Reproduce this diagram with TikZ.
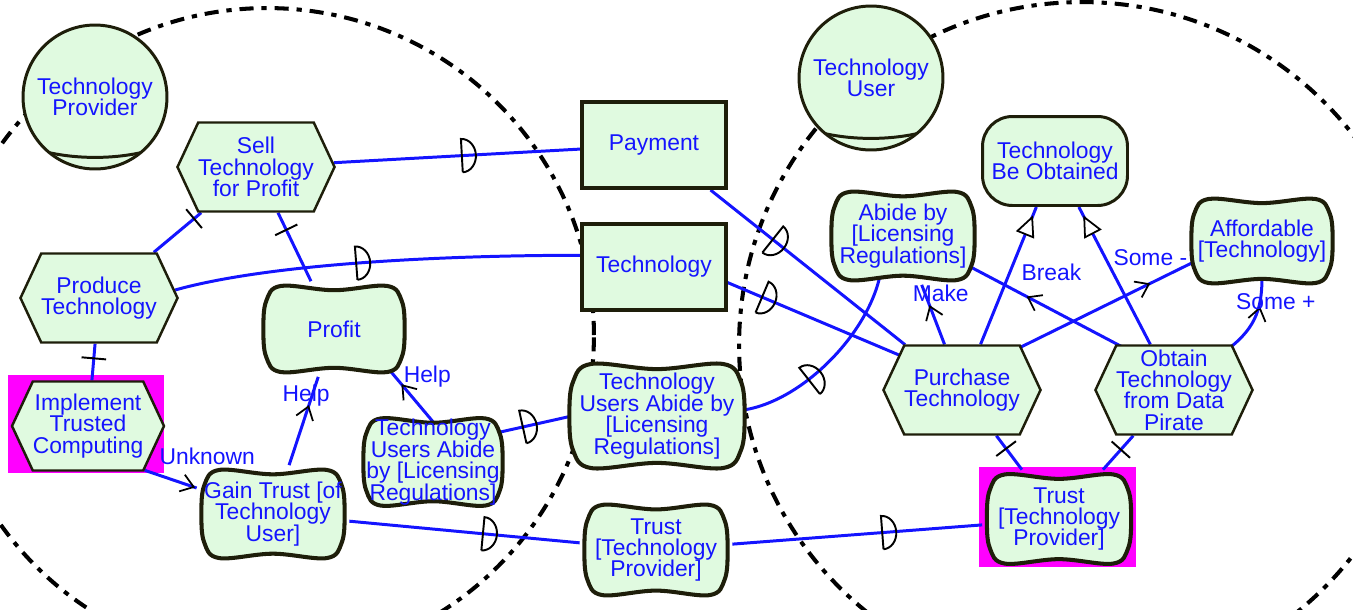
\documentclass[tikz,border=0pt]{standalone}
\usepackage{fontspec}
\setmainfont{Liberation Sans}
\usetikzlibrary{shapes.symbols, arrows.meta, decorations.markings, calc}
\pgfdeclarelayer{back}
\pgfsetlayers{back,main}
\definecolor{nodefill}{RGB}{224,250,224}
\definecolor{nodeline}{RGB}{30,30,10}
\definecolor{istarblue}{RGB}{20,20,255}
\definecolor{hilite}{RGB}{255,0,255}

\begin{document}
\begin{tikzpicture}[x=0.02cm, y=-0.02cm,
    every node/.style={font=\fontsize{13}{12.2}\selectfont, text=istarblue, align=center, inner sep=0pt},
    actor/.style={circle, draw=nodeline, fill=nodefill, line width=1.7pt, minimum size=2.88cm,
      path picture={\draw [draw=nodeline, line width=1.7pt] let \p1 = (path picture bounding box.center) in
        ({\x1 - 29pt}, {\y1 - 31pt}) .. controls ({\x1 - 11pt}, {\y1 - 35.5pt}) and ({\x1 + 11pt}, {\y1 - 35.5pt}) .. ({\x1 + 29pt}, {\y1 - 31pt});}},
    hexa/.style={signal, signal to=east and west, signal pointer angle=130, draw=nodeline, fill=nodefill, line width=1.4pt, minimum width=2.9cm, minimum height=1.78cm},
    res/.style={rectangle, draw=nodeline, fill=nodefill, line width=2.3pt, minimum width=2.88cm, minimum height=1.72cm},
    goal/.style={rectangle, rounded corners=17pt, draw=nodeline, fill=nodefill, line width=1.7pt, minimum width=2.9cm, minimum height=1.78cm},
    soft/.style={rectangle, path picture={
      \draw [draw=nodeline, fill=nodefill, line width=2.3pt] let \p1 = (path picture bounding box.south west),
          \p2 = (path picture bounding box.north east), \p3 = (path picture bounding box.center),
          \n1 = {(\x2 - \x1) / 2 - 2.5pt}, \n2 = {(\y2 - \y1) / 2 - 2.5pt} in
        plot [smooth cycle, tension=.6] coordinates {
          ({\x3 - .75*\n1}, {\y3 + \n2}) ({\x3}, {\y3 + .9*\n2}) ({\x3 + .75*\n1}, {\y3 + \n2})
          ({\x3 + .96*\n1}, {\y3 + .65*\n2}) ({\x3 + \n1}, {\y3}) ({\x3 + .96*\n1}, {\y3 - .65*\n2})
          ({\x3 + .75*\n1}, {\y3 - \n2}) ({\x3}, {\y3 - .9*\n2}) ({\x3 - .75*\n1}, {\y3 - \n2})
          ({\x3 - .96*\n1}, {\y3 - .65*\n2}) ({\x3 - \n1}, {\y3}) ({\x3 - .96*\n1}, {\y3 + .65*\n2})};}},
    link/.style={draw=istarblue, line width=1.7pt},
    into/.style={shorten <=-6pt, shorten >=-6pt},
    mk/.style={black, line width=1.1pt, shorten <=0pt, shorten >=0pt},
    dep/.style={postaction={decorate, decoration={markings, mark=at position #1 with
      {\draw [mk] (0pt, -9.5pt) -- (0pt, 9.5pt) arc [start angle=90, end angle=-90, x radius=8pt, y radius=9.5pt];}}}},
    bar/.style={postaction={decorate, decoration={markings, mark=at position #1 with
      {\draw [mk] (0pt, -7pt) -- (0pt, 7pt);}}}},
    contrib/.style={postaction={decorate, decoration={markings, mark=at position #1 with
      {\arrow [black, line width=1pt] {Straight Barb[length=7pt, width=10pt]}}}}},
    meansend/.style={postaction={decorate, decoration={markings, mark=at position #1 with
      {\arrow [black, line width=1pt] {Triangle[length=12pt, width=11pt, fill=white]}}}}},
    lbl/.style={text=istarblue},
    boundary/.style={draw=black, line width=2.3pt, dash pattern=on 8pt off 4.5pt on 3pt off 4.5pt}]
    \useasboundingbox (0, 0) rectangle (1353, 609);
    \node [actor] (tprov) at (95, 97) {Technology\\Provider};
    \node [actor] (tuser) at (871, 78) {Technology\\User};
    \node [hexa] (sell) at (256, 167) {Sell\\Technology\\for Profit};
    \node [hexa] (prod) at (99, 298) {Produce\\Technology};
    \node [hexa] (itc) at (88, 426) {Implement\\Trusted\\Computing};
    \node [soft, minimum width=3cm, minimum height=1.9cm] (profit) at (334, 329) {Profit};
    \node [soft, minimum width=3.04cm, minimum height=1.94cm] (gain) at (273, 514) {Gain Trust [of\\Technology\\User]};
    \node [soft, minimum width=2.96cm, minimum height=1.92cm] (tuas) at (433, 462) {Technology\\Users Abide\\by [Licensing\\Regulations]};
    \node [res] (pay) at (654, 145) {Payment};
    \node [res] (tech) at (654, 267) {Technology};
    \node [soft, minimum width=3.68cm, minimum height=2.26cm] (tuab) at (657, 416) {Technology\\Users Abide by\\{}[Licensing\\Regulations]};
    \node [soft, minimum width=3.04cm, minimum height=1.98cm] (trustm) at (656, 550) {Trust\\{}[Technology\\Provider]};
    \node [goal] (tbo) at (1055, 161) {Technology\\Be Obtained};
    \node [soft, minimum width=3.04cm, minimum height=1.94cm] (abide) at (903, 236) {Abide by\\{}[Licensing\\Regulations]};
    \node [soft, minimum width=3cm, minimum height=1.86cm] (afford) at (1262, 241) {Affordable\\{}[Technology]};
    \node [hexa] (purch) at (962, 390) {Purchase\\Technology};
    \node [hexa] (obtain) at (1174, 390) {Obtain\\Technology\\from Data\\Pirate};
    \node [soft, minimum width=3.06cm, minimum height=1.96cm] (trustr) at (1059, 519) {Trust\\{}[Technology\\Provider]};
    \begin{pgfonlayer}{back}
    \draw [boundary] (267, 335) circle [radius=6.54cm];
    \draw [boundary] (1082, 345) circle [radius=6.86cm];
    \fill [hilite] (8, 375) rectangle (164, 473);
    \fill [hilite] (979, 467) rectangle (1136, 567);
    \draw [link, bar=.85] (prod) to (sell);
    \draw [link, bar=.75] (profit) to (sell);
    \draw [link, bar=.6] (itc) to (prod);
    \draw [link, contrib=.97] (itc.-38) to node [lbl, pos=1, xshift=6pt, yshift=18pt] {Unknown} (gain);
    \draw [link, contrib=.68] (gain) to node [lbl, pos=.79, xshift=-3.4pt] {Help} (profit);
    \draw [link, into, contrib=.8] (tuas.98) to node [lbl, pos=1, anchor=west, xshift=4pt] {Help} (profit.-38);
    \draw [link, dep=.52] (sell) to (pay);
    \draw [link, dep=.45] (prod.6) .. controls +(100, -28) and +(-120, 0) .. (tech.171);
    \draw [link, dep=.32] (pay) to (purch);
    \draw [link, into, dep=.2] (tech.-12) to (purch.151);
    \draw [link, into, dep=.27] (tuas.23) to (tuab.181);
    \draw [link, into, dep=.36] (tuab.4) .. controls +(50, -5) and +(-10, 50) .. (abide.243);
    \draw [link, dep=.58] (gain) to (trustm);
    \draw [link, dep=.6] (trustm) to (trustr);
    \draw [link, contrib=.66] (purch) to node [lbl, pos=.86, xshift=9pt] {Make} (abide);
    \draw [link, meansend=.94] (purch) to (tbo);
    \draw [link, meansend=.94] (obtain) to (tbo);
    \draw [link, into, contrib=.66] (obtain.141) to node [lbl, pos=.48, yshift=21pt] {Break} (abide.-25);
    \draw [link, into, contrib=.78] (purch.36) to node [lbl, pos=.78, yshift=14.7pt] {Some -} (afford.198);
    \draw [link, into, contrib=.72] (obtain.37) .. controls +(20, -15) and +(0, 25) .. node [lbl, pos=.8, xshift=8.5pt] {Some +} (afford.south);
    \draw [link, bar=.38] (purch) to (trustr);
    \draw [link, bar=.41] (obtain) to (trustr);
    \end{pgfonlayer}
\end{tikzpicture}
\end{document}
